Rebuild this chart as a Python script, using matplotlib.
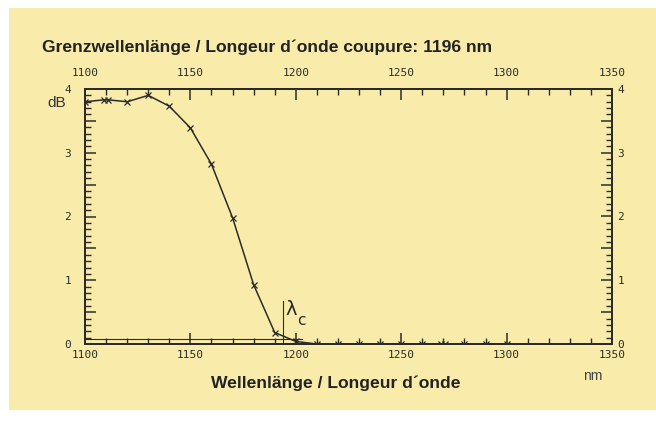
import matplotlib
matplotlib.use('Agg')
from matplotlib import pyplot as plt
from matplotlib.patches import Rectangle
from matplotlib.ticker import MultipleLocator, FuncFormatter

# measured attenuation (dB) vs wavelength (nm)
wavelength = [1100, 1109, 1111, 1120, 1130, 1140, 1150, 1160, 1170, 1180, 1190, 1200,
              1210, 1220, 1230, 1240, 1250, 1260, 1269, 1271, 1280, 1290, 1300]
attenuation = [3.80, 3.83, 3.83, 3.80, 3.90, 3.73, 3.39, 2.82, 1.98, 0.93, 0.18, 0.04,
               0.0, 0.0, 0.0, 0.0, 0.0, 0.0, 0.0, 0.0, 0.0, 0.0, 0.0]
cutoff = 1194
cutoff_level = 0.08

cream = '#f9ecab'
ink = '#2b2b2b'

fig = plt.figure(figsize=(6.56, 4.23), dpi=100, facecolor='white')
# scanned page background
fig.patches.append(Rectangle((9/656, 13/423), 1, (410-8)/423, transform=fig.transFigure,
                             facecolor=cream, edgecolor='none', zorder=-10))

ax = fig.add_axes([85/656, 1-344/423, (612-85)/656, (344-89)/423])
ax.set_facecolor('none')
ax.plot(wavelength, attenuation, color=ink, lw=1.1, marker='x', ms=4.5, mew=0.9)

# cut-off marker lines
ax.plot([1100, 1203], [cutoff_level, cutoff_level], color=ink, lw=0.8)
ax.plot([cutoff, cutoff], [0, 0.68], color=ink, lw=0.8)
ax.text(cutoff + 1.2, 0.46, '\u03bb', fontsize=14, color=ink, family='DejaVu Sans')
ax.text(cutoff + 6.8, 0.30, 'c', fontsize=11, color=ink, family='DejaVu Sans')

ax.set_xlim(1100, 1350)
ax.set_ylim(0, 4)

def int_only(v, pos):
    return '%d' % v if abs(v - round(v)) < 1e-6 else ''

ax2 = ax.twinx()
ax3 = ax.twiny()
ax2.set_ylim(0, 4)
ax3.set_xlim(1100, 1350)
for a in (ax, ax2, ax3):
    a.xaxis.set_major_locator(MultipleLocator(50))
    a.xaxis.set_minor_locator(MultipleLocator(10))
    a.yaxis.set_major_locator(MultipleLocator(0.5))
    a.yaxis.set_minor_locator(MultipleLocator(0.1))
    a.yaxis.set_major_formatter(FuncFormatter(int_only))
    a.tick_params(which='major', direction='in', length=8, width=1.1, color=ink,
                  labelcolor=ink, labelsize=8)
    a.tick_params(which='minor', direction='in', length=4, width=1.0, color=ink)
    for s in a.spines.values():
        s.set_color(ink)
        s.set_linewidth(1.3)

ax.tick_params(axis='x', pad=4)
ax.tick_params(axis='y', pad=10)
ax2.tick_params(axis='y', pad=4)
ax3.tick_params(axis='x', pad=8)
ax.tick_params(top=False, right=False)
ax2.xaxis.set_visible(False)
ax3.yaxis.set_visible(False)
for a in (ax, ax2, ax3):
    for lab in a.get_xticklabels() + a.get_yticklabels():
        lab.set_family('DejaVu Sans Mono')

fig.text(42/656, 1-47/423, 'Grenzwellenlänge / Longeur d\u00b4onde coupure: 1196 nm',
         fontsize=12.6, fontweight='bold', family='Liberation Sans', color='#222222',
         va='center', ha='left')
fig.text(336/656, 1-383/423, 'Wellenlänge / Longeur d\u00b4onde', fontsize=12.6,
         fontweight='bold', family='Liberation Sans', color='#222222',
         va='center', ha='center')
fig.text(593/656, 1-376/423, 'nm', fontsize=10, family='Liberation Sans', color='#444444',
         va='center', ha='center')
fig.text(57/656, 1-103/423, 'dB', fontsize=11, family='Liberation Sans', color='#333333',
         va='center', ha='center')

fig.savefig('out.png', dpi=100, facecolor='white')
